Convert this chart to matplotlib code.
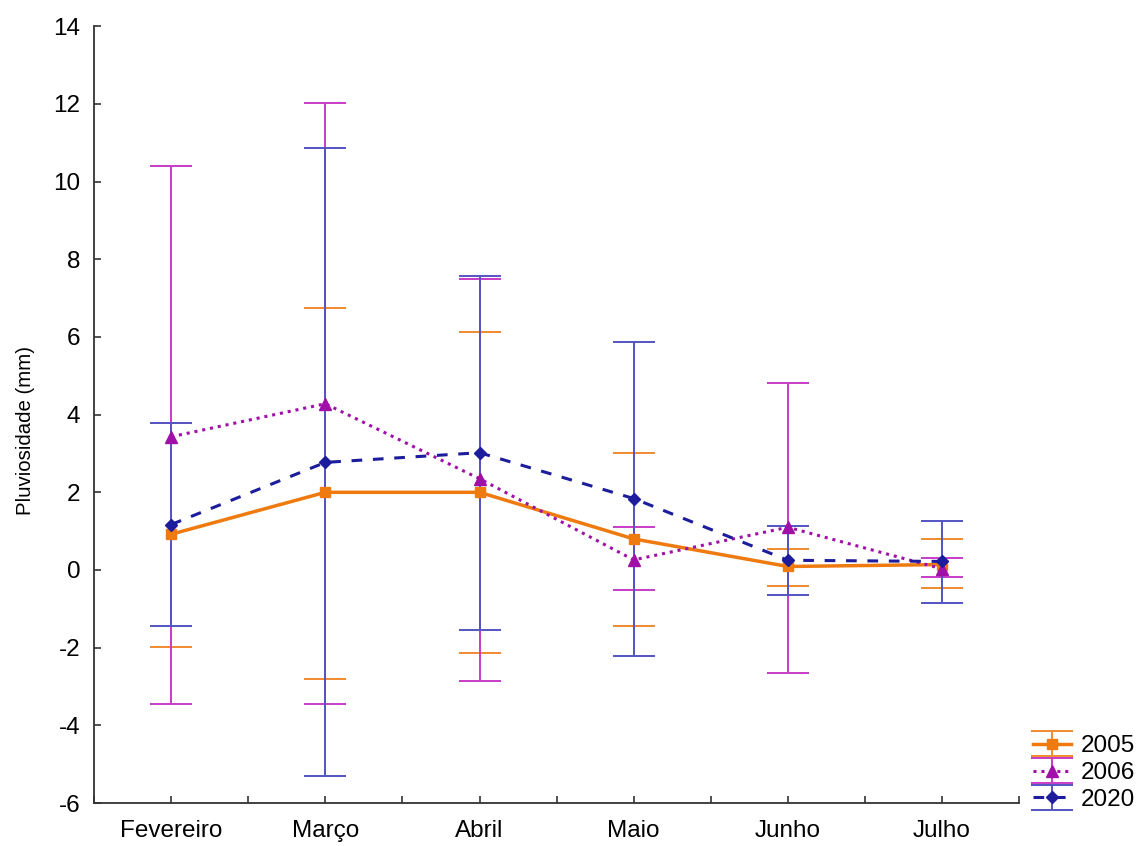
import matplotlib
matplotlib.use("Agg")
import matplotlib.pyplot as plt
import numpy as np

plt.rcParams['font.family'] = ['Liberation Sans', 'DejaVu Sans']
plt.rcParams['axes.unicode_minus'] = False

months = ["Fevereiro", "Março", "Abril", "Maio", "Junho", "Julho"]

mean_2005 = [0.92, 2.00, 2.00, 0.80, 0.09, 0.14]
low_2005  = [-1.99, -2.81, -2.14, -1.44, -0.40, -0.47]
high_2005 = [3.78, 6.75, 6.12, 3.02, 0.54, 0.79]

mean_2006 = [3.43, 4.28, 2.35, 0.26, 1.10, 0.03]
low_2006  = [-3.46, -3.46, -2.86, -0.51, -2.66, -0.19]
high_2006 = [10.40, 12.02, 7.50, 1.11, 4.82, 0.31]

mean_2020 = [1.17, 2.77, 3.02, 1.84, 0.25, 0.22]
low_2020  = [-1.45, -5.31, -1.55, -2.22, -0.65, -0.86]
high_2020 = [3.78, 10.86, 7.58, 5.87, 1.14, 1.27]

series = [
    ("2005", mean_2005, low_2005, high_2005, "#EE7A10", "#F08A30", "s", "-", 6.5, 2.5),
    ("2006", mean_2006, low_2006, high_2006, "#A010A8", "#C83CC8", "^", ":", 8.5, 2.2),
    ("2020", mean_2020, low_2020, high_2020, "#1C1C9C", "#5454C4", "D", "--", 6.5, 2.2),
]

fig = plt.figure(figsize=(11.4, 8.46), dpi=100)
ax = fig.add_axes([0.0825, 0.0508, 0.8115, 0.9182])

x = np.arange(len(months))
containers = []
for name, m, lo, hi, lc, ec, mk, ls, ms, lw in series:
    m = np.array(m); lo = np.array(lo); hi = np.array(hi)
    yerr = np.vstack([m - lo, hi - m])
    if ls == "--":
        dash = (3.5, 3.5)
    elif ls == ":":
        dash = (1, 1.6)
    else:
        dash = None
    cont = ax.errorbar(x, m, yerr=yerr, color=lc, ecolor=ec, elinewidth=1.4,
                       capsize=15, capthick=1.4, marker=mk, markersize=ms,
                       linestyle=ls, linewidth=lw, label=name, zorder=2)
    cont.lines[0].set_zorder(5)
    if dash:
        cont.lines[0].set_dashes(dash)
    containers.append(cont)

ax.set_xlim(-0.5, 5.5)
ax.set_ylim(-6, 14)
ax.set_yticks(np.arange(-6, 15, 2))
ax.set_xticks(x)
ax.set_xticklabels(months)
ax.set_xticks(np.arange(-0.5, 5.6, 1), minor=True)
ax.tick_params(axis='both', which='both', direction='in', labelsize=17.5,
               length=5, width=1.2, color='#333333')
ax.tick_params(axis='x', which='major', pad=12)
ax.tick_params(axis='y', pad=10)
ax.spines['top'].set_visible(False)
ax.spines['right'].set_visible(False)
for s in ('left', 'bottom'):
    ax.spines[s].set_linewidth(1.3)
    ax.spines[s].set_color('#333333')
ax.set_ylabel("Pluviosidade (mm)", fontsize=14.7)
ax.yaxis.set_label_coords(-0.064, 0.479)

fig.legend(handles=containers, labels=[s[0] for s in series],
           loc='lower left', bbox_to_anchor=(0.898, 0.03),
           frameon=False, fontsize=17.5, handlelength=1.55,
           handletextpad=0.4, labelspacing=0.2, borderaxespad=0)

fig.savefig("out.png", dpi=100)
